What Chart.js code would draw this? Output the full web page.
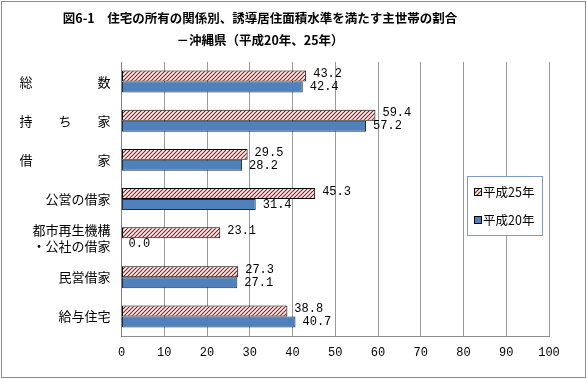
<!DOCTYPE html>
<html><head><meta charset="utf-8">
<script src="https://cdn.jsdelivr.net/npm/chart.js@4/dist/chart.umd.min.js"></script>
<style>html,body{margin:0;padding:0;background:#fff;}canvas{display:block;}</style>
</head><body>
<canvas id="c" width="587" height="379"></canvas>
<script>
const titleLines = ['図6-1　住宅の所有の関係別、誘導居住面積水準を満たす主世帯の割合', '－沖縄県（平成20年、25年）'];
const categories = [['総　　　　　数'], ['持　　ち　　家'], ['借　　　　　家'], ['公営の借家'], ['都市再生機構', '・公社の借家'], ['民営借家'], ['給与住宅']];
const seriesNames = ['平成25年', '平成20年'];
const values25 = [43.2, 59.4, 29.5, 45.3, 23.1, 27.3, 38.8];
const values20 = [42.4, 57.2, 28.2, 31.4, 0.0, 27.1, 40.7];
const xTicks = [0, 10, 20, 30, 40, 50, 60, 70, 80, 90, 100];

function hatch() {
  const p = document.createElement('canvas');
  p.width = 4; p.height = 4;
  const g = p.getContext('2d');
  g.fillStyle = '#fff'; g.fillRect(0, 0, 4, 4);
  g.strokeStyle = '#8B1F1F'; g.lineWidth = 1.2;
  g.beginPath();
  g.moveTo(-1, 5); g.lineTo(5, -1);
  g.moveTo(-1, 1); g.lineTo(1, -1);
  g.moveTo(3, 5); g.lineTo(5, 3);
  g.stroke();
  return document.getElementById('c').getContext('2d').createPattern(p, 'repeat');
}
const hatchPattern = hatch();
const blue = '#4F81BD';

const decor = {
  id: 'decor',
  afterDraw(chart) {
    const ctx = chart.ctx;
    ctx.save();
    // border
    ctx.strokeStyle = '#8c8c8c'; ctx.lineWidth = 1;
    ctx.strokeRect(1.5, 1.5, 584, 376);
    // title
    ctx.fillStyle = '#000';
    ctx.font = 'bold 12.5px "Noto Sans CJK JP"';
    ctx.textAlign = 'center'; ctx.textBaseline = 'middle';
    ctx.fillText(titleLines[0], 260, 18);
    ctx.fillText(titleLines[1], 260, 40);
    // data labels
    ctx.font = '12px "Liberation Mono"';
    ctx.textAlign = 'left';
    chart.data.datasets.forEach((ds, di) => {
      const meta = chart.getDatasetMeta(di);
      meta.data.forEach((bar, i) => {
        const v = ds.data[i];
        const dy = di === 0 ? -2 : 0;
        ctx.fillText(v.toFixed(1), bar.x + 7, bar.y + dy);
      });
    });
    // legend
    const lx = 467.5, ly = 176.5, lw = 75, lh = 59;
    ctx.fillStyle = '#fff';
    ctx.fillRect(lx, ly, lw, lh);
    ctx.strokeStyle = '#7f9cc8';
    ctx.strokeRect(lx, ly, lw, lh);
    const items = [[hatchPattern, '#000', 192], [blue, '#000', 220]];
    items.forEach((it, k) => {
      ctx.fillStyle = it[0];
      ctx.fillRect(475, it[2] - 3, 6, 6);
      ctx.strokeStyle = it[1]; ctx.lineWidth = 1;
      ctx.strokeRect(474.5, it[2] - 3.5, 7, 7);
      ctx.fillStyle = '#000';
      ctx.font = '12.5px "Noto Sans CJK JP"';
      ctx.textBaseline = 'middle';
      ctx.fillText(seriesNames[k], 483, it[2]);
    });
    ctx.restore();
  }
};

new Chart(document.getElementById('c'), {
  type: 'bar',
  data: {
    labels: categories,
    datasets: [
      { label: seriesNames[0], data: values25, backgroundColor: hatchPattern, borderColor: '#000', borderWidth: 1, borderSkipped: false },
      { label: seriesNames[1], data: values20, backgroundColor: blue, borderColor: '#1c2f4a', borderWidth: 1, borderSkipped: false }
    ]
  },
  options: {
    indexAxis: 'y',
    responsive: false,
    animation: false,
    devicePixelRatio: 1,
    layout: { padding: { left: 0, right: 38, top: 62, bottom: 10 } },
    plugins: { legend: { display: false }, tooltip: { enabled: false }, title: { display: false } },
    datasets: { bar: { barPercentage: 1, categoryPercentage: 0.56 } },
    scales: {
      x: {
        min: 0, max: 100,
        afterBuildTicks(s) { s.ticks = xTicks.map(v => ({ value: v })); },
        afterFit(s) { s.height = 33; },
        grid: { color: '#9a9a9a', drawTicks: false, lineWidth: 1 },
        border: { color: '#8c8c8c' },
        ticks: { color: '#000', font: { family: 'Liberation Mono', size: 12 }, padding: 10 }
      },
      y: {
        afterFit(s) { s.width = 121.5; },
        grid: { display: false, drawTicks: false },
        border: { color: '#808080' },
        ticks: { color: '#000', font: { family: 'Noto Sans CJK JP', size: 13 }, padding: 11, crossAlign: 'near' }
      }
    }
  },
  plugins: [decor]
});
</script>
</body></html>
